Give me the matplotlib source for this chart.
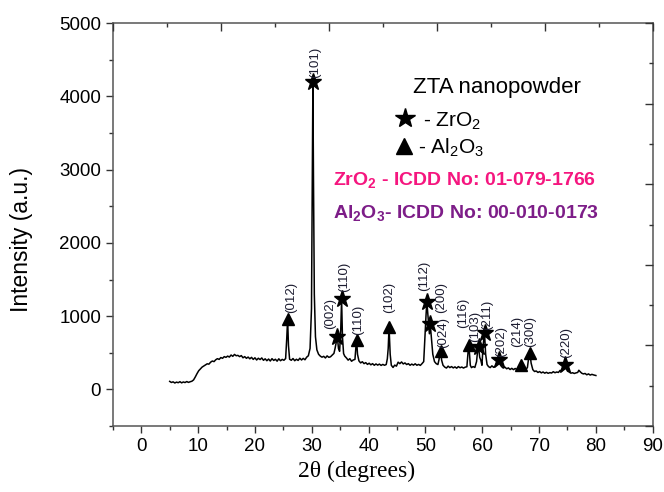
import matplotlib
matplotlib.use("Agg")
import matplotlib.pyplot as plt
from matplotlib.ticker import MultipleLocator

plt.rcParams['font.family'] = ['Liberation Sans', 'DejaVu Sans']
plt.rcParams['mathtext.fontset'] = 'custom'
plt.rcParams['mathtext.rm'] = 'Liberation Sans'
plt.rcParams['mathtext.bf'] = 'Liberation Sans:bold'
plt.rcParams['mathtext.default'] = 'regular'

# XRD trace, ten points per row in both lists
two_theta = [5.0, 5.3, 5.6, 5.9, 6.2, 6.5, 6.8, 7.1, 7.4, 7.7,
             8.0, 8.3, 8.6, 8.9, 9.2, 9.5, 9.8, 10.1, 10.4, 10.7,
             11.0, 11.3, 11.6, 11.9, 12.2, 12.5, 12.8, 13.1, 13.4, 13.7,
             14.0, 14.3, 14.6, 14.9, 15.2, 15.5, 15.8, 16.1, 16.4, 16.7,
             17.0, 17.3, 17.6, 17.9, 18.2, 18.5, 18.8, 19.1, 19.4, 19.7,
             20.0, 20.3, 20.6, 20.9, 21.2, 21.5, 21.8, 22.1, 22.4, 22.7,
             23.0, 23.3, 23.6, 23.9, 24.2, 24.5, 24.8, 25.1, 25.4, 25.6,
             25.75, 25.9, 26.1, 26.4, 26.7, 27.0, 27.3, 27.6, 27.9, 28.2,
             28.5, 28.8, 29.1, 29.4, 29.7, 29.95, 30.1, 30.2, 30.3, 30.45,
             30.65, 30.9, 31.2, 31.5, 31.8, 32.1, 32.4, 32.7, 33.0, 33.3,
             33.6, 33.9, 34.1, 34.3, 34.5, 34.7, 34.9, 35.1, 35.25, 35.4,
             35.6, 35.8, 36.1, 36.4, 36.7, 37.0, 37.3, 37.6, 37.75, 37.9,
             38.05, 38.3, 38.6, 38.9, 39.2, 39.5, 39.8, 40.1, 40.4, 40.7,
             41.0, 41.3, 41.6, 41.9, 42.2, 42.5, 42.8, 43.1, 43.3, 43.45,
             43.6, 43.8, 44.0, 44.3, 44.6, 44.9, 45.2, 45.5, 45.8, 46.1,
             46.4, 46.7, 47.0, 47.3, 47.6, 47.9, 48.2, 48.5, 48.8, 49.1,
             49.4, 49.7, 49.9, 50.1, 50.25, 50.5, 50.7, 50.85, 51.05, 51.3,
             51.6, 51.9, 52.2, 52.4, 52.55, 52.7, 52.85, 53.1, 53.4, 53.7,
             54.0, 54.3, 54.6, 54.9, 55.2, 55.5, 55.8, 56.1, 56.4, 56.7,
             57.0, 57.3, 57.45, 57.6, 57.75, 57.9, 58.1, 58.4, 58.7, 59.0,
             59.2, 59.35, 59.55, 59.75, 59.95, 60.15, 60.4, 60.6, 60.85, 61.1,
             61.4, 61.7, 62.0, 62.3, 62.5, 62.7, 62.9, 63.1, 63.4, 63.7,
             64.0, 64.3, 64.6, 64.9, 65.2, 65.5, 65.8, 66.1, 66.4, 66.7,
             66.9, 67.1, 67.4, 67.7, 67.95, 68.2, 68.4, 68.6, 68.9, 69.2,
             69.5, 69.8, 70.1, 70.4, 70.7, 71.0, 71.3, 71.6, 71.9, 72.2,
             72.5, 72.8, 73.1, 73.4, 73.7, 74.0, 74.2, 74.5, 74.8, 75.0,
             75.3, 75.6, 75.9, 76.2, 76.5, 76.8, 77.0, 77.2, 77.5, 77.8,
             78.1, 78.4, 78.7, 79.0, 79.3, 79.6, 80.0]
intensity = [110, 95, 104, 88, 100, 92, 106, 90, 102, 94,
             108, 96, 105, 112, 130, 170, 215, 255, 280, 305,
             320, 335, 350, 345, 372, 388, 380, 405, 420, 410,
             435, 425, 448, 438, 455, 442, 470, 452, 478, 460,
             465, 448, 462, 432, 448, 425, 442, 418, 438, 410,
             432, 402, 426, 408, 430, 398, 418, 392, 415, 388,
             420, 396, 412, 386, 418, 392, 410, 398, 422, 700,
             960, 600, 412, 398, 422, 392, 412, 396, 426, 402,
             424, 405, 440, 460, 560, 1100, 2900, 4200, 2900, 1300,
             720, 540, 480, 455, 440, 452, 430, 458, 438, 446,
             468, 492, 560, 640, 720, 560, 520, 820, 1230, 720,
             490, 455, 430, 400, 420, 385, 402, 410, 560, 670,
             480, 390, 362, 378, 352, 366, 342, 358, 336, 352,
             330, 348, 332, 346, 328, 342, 330, 340, 420, 560,
             850, 480, 330, 300, 332, 318, 372, 352, 375, 348,
             362, 340, 352, 330, 346, 332, 350, 330, 342, 328,
             352, 380, 700, 1000, 1200, 950, 760, 890, 700, 480,
             380, 352, 340, 410, 500, 530, 400, 330, 305, 292,
             318, 298, 312, 294, 308, 290, 312, 296, 306, 292,
             304, 310, 450, 605, 500, 330, 298, 312, 300, 380,
             540, 583, 440, 400, 330, 600, 770, 480, 340, 312,
             298, 322, 302, 318, 345, 380, 405, 345, 312, 292,
             304, 282, 294, 272, 288, 270, 286, 272, 290, 310,
             335, 330, 295, 272, 300, 450, 500, 360, 270, 245,
             252, 232, 244, 226, 238, 222, 234, 220, 230, 224,
             242, 228, 238, 232, 260, 252, 285, 333, 285, 250,
             238, 222, 228, 218, 226, 232, 262, 245, 222, 212,
             218, 200, 212, 196, 206, 198, 190]

# ZrO2 peaks (star)
zr_x = [30.2, 34.5, 35.25, 50.25, 50.85, 59.35, 60.4, 62.9, 74.5]
zr_y = [4200, 720, 1230, 1200, 890, 583, 770, 405, 333]
zr_hkl = ['(101)', '(002)', '(110)', '(112)', '(200)', '(103)', '(211)', '(202)', '(220)']
zr_lab_x = [30.6, 33.2, 35.7, 49.8, 52.7, 58.75, 60.8, 63.4, 74.8]
zr_lab_y = [4250, 830, 1330, 1350, 1040, 650, 810, 445, 430]

# Al2O3 peaks (triangle)
al_x = [25.75, 37.9, 43.6, 52.7, 57.6, 66.9, 68.4]
al_y = [960, 670, 850, 530, 605, 335, 500]
al_hkl = ['(012)', '(110)', '(102)', '(024)', '(116)', '(214)', '(300)']
al_lab_x = [26.3, 38.1, 43.7, 53.1, 56.7, 66.1, 68.4]
al_lab_y = [1040, 740, 1040, 565, 840, 580, 580]

fig = plt.figure(figsize=(6.64, 4.92), dpi=100)
ax = fig.add_axes([0.170, 0.134, 0.813, 0.819])

ax.plot(two_theta, intensity, color='black', lw=1.1, zorder=2)
ax.plot(zr_x, zr_y, ls='none', marker='*', ms=12.5, color='black', zorder=3)
ax.plot(al_x, al_y, ls='none', marker='^', ms=9, color='black', zorder=3)

lab_col = '#1c1c30'
for x, y, t in zip(zr_lab_x + al_lab_x, zr_lab_y + al_lab_y, zr_hkl + al_hkl):
    ax.text(x, y, t, rotation=90, ha='center', va='bottom', fontsize=9.5, color=lab_col)

# legend-like notes
ax.text(47.8, 4115, 'ZTA nanopowder', fontsize=16, ha='left', va='center')
ax.plot([46.4], [3705], ls='none', marker='*', ms=15, color='black')
ax.text(49.5, 3580, '- ZrO$_2$', fontsize=15, ha='left', va='baseline')
ax.plot([46.2], [3323], ls='none', marker='^', ms=11, color='black')
ax.text(48.7, 3213, '- Al$_2$O$_3$', fontsize=15, ha='left', va='baseline')
ax.text(33.7, 2790, 'ZrO$_2$ - ICDD No: 01-079-1766', fontsize=14, fontweight='bold',
        color='#f5167f', ha='left', va='baseline')
ax.text(33.7, 2340, 'Al$_2$O$_3$- ICDD No: 00-010-0173', fontsize=14, fontweight='bold',
        color='#7d1d88', ha='left', va='baseline')

ax.set_xlim(-5, 90)
ax.set_ylim(-500, 5000)
ax.xaxis.set_major_locator(MultipleLocator(10))
ax.xaxis.set_minor_locator(MultipleLocator(5))
ax.yaxis.set_major_locator(MultipleLocator(1000))
ax.yaxis.set_minor_locator(MultipleLocator(500))
ax.tick_params(which='major', direction='out', length=5, width=1, labelsize=13.5, color='#333333')
ax.tick_params(which='minor', direction='out', length=3, width=1, color='#333333')
for s in ax.spines.values():
    s.set_color('#555555')
    s.set_linewidth(1.1)

ax.set_ylabel('Intensity (a.u.)', fontsize=16.5)
ax.yaxis.set_label_coords(-0.148, 0.464)
ax.set_xlabel('2\u03b8 (degrees)', fontsize=17, family=['Liberation Serif', 'DejaVu Serif'])
ax.xaxis.set_label_coords(0.452, -0.086)

# top and right frames carry their own tick spacing
axt = ax.twiny()
axt.set_xlim(0, 10)
axt.xaxis.set_major_locator(MultipleLocator(2))
axt.xaxis.set_minor_locator(MultipleLocator(1))
axt.tick_params(which='both', direction='in', labeltop=False, color='#333333', width=1)
axt.tick_params(which='major', length=6)
axt.tick_params(which='minor', length=3)
axr = ax.twinx()
axr.set_ylim(0, 10)
axr.yaxis.set_major_locator(MultipleLocator(2))
axr.yaxis.set_minor_locator(MultipleLocator(1))
axr.tick_params(which='both', direction='in', labelright=False, color='#333333', width=1)
axr.tick_params(which='major', length=6)
axr.tick_params(which='minor', length=3)
for a in (axt, axr):
    for s in a.spines.values():
        s.set_visible(False)

fig.savefig('out.png', dpi=100)
